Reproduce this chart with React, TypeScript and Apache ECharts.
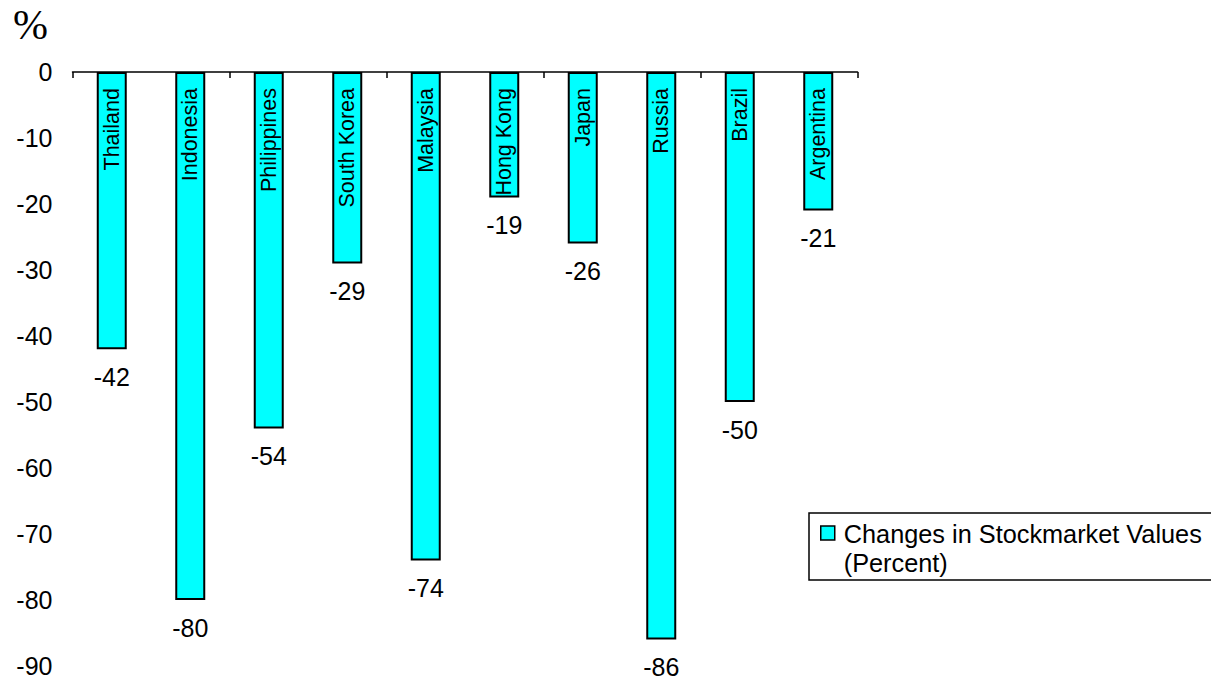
import React, { useEffect, useRef } from "react";
import * as echarts from "echarts";

// Countries and the change in their stock market values, in percent
const categories = [
  "Thailand",
  "Indonesia",
  "Philippines",
  "South Korea",
  "Malaysia",
  "Hong Kong",
  "Japan",
  "Russia",
  "Brazil",
  "Argentina",
];
const changes = [-42, -80, -54, -29, -74, -19, -26, -86, -50, -21];

const seriesName = "Changes in Stockmarket Values\n(Percent)";
const yMin = -90;
const yMax = 0;
const yStep = 10;

const SANS = "'Liberation Sans', Arial, sans-serif";
const SERIF = "'Liberation Serif', 'Times New Roman', serif";
const CYAN = "#00FFFF";

export default function App() {
  const ref = useRef<HTMLDivElement>(null);

  useEffect(() => {
    if (!ref.current) return;
    const chart = echarts.init(ref.current, null, { renderer: "svg" });

    chart.setOption({
      animation: false,
      backgroundColor: "#ffffff",
      textStyle: { fontFamily: SANS },
      grid: { left: 72.5, right: 353.5, top: 72, bottom: 15, containLabel: false },
      xAxis: {
        type: "category",
        data: categories,
        axisLine: { show: true, onZero: true, lineStyle: { color: "#000", width: 1.5 } },
        axisTick: { show: true, length: 6, lineStyle: { color: "#000", width: 1.5 } },
        axisLabel: { show: false },
        splitLine: { show: false },
      },
      yAxis: {
        type: "value",
        min: yMin,
        max: yMax,
        interval: yStep,
        axisLine: { show: false },
        axisTick: { show: false },
        splitLine: { show: false },
        axisLabel: { color: "#000", fontSize: 25, fontFamily: SANS, margin: 20 },
      },
      legend: {
        show: true,
        left: 809,
        top: 513,
        orient: "vertical",
        data: [{ name: seriesName }],
        // square at the top-left of an 18x44 box keeps the swatch beside the first line
        icon: "path://M0,0L14,0L14,14L0,14Z M18,44L18,44",
        itemWidth: 18,
        itemHeight: 44,
        padding: [6, 11, 3, 11],
        borderColor: "#000",
        borderWidth: 1.5,
        borderRadius: 0,
        backgroundColor: "#fff",
        itemStyle: { color: CYAN, borderColor: "#000", borderWidth: 1.5 },
        textStyle: { color: "#000", fontSize: 25.3, fontFamily: SANS, lineHeight: 29 },
      },
      graphic: [
        {
          type: "text",
          x: 30.5,
          y: 24.5,
          style: {
            text: "%",
            fill: "#000",
            font: `42px ${SERIF}`,
            textAlign: "center",
            textVerticalAlign: "middle",
          },
        },
      ],
      series: [
        {
          name: seriesName,
          type: "bar",
          data: changes,
          barWidth: 30,
          itemStyle: { color: CYAN, borderColor: "#000", borderWidth: 2 },
          label: {
            show: true,
            position: "insideTop",
            distance: 16,
            rotate: 90,
            align: "right",
            verticalAlign: "middle",
            formatter: (p: any) => categories[p.dataIndex],
            color: "#000",
            fontSize: 21.5,
            fontFamily: SANS,
          },
        },
        {
          name: "values",
          type: "bar",
          data: changes,
          barWidth: 30,
          barGap: "-100%",
          silent: true,
          itemStyle: { color: "transparent", borderWidth: 0 },
          label: {
            show: true,
            position: "bottom",
            distance: 15,
            formatter: (p: any) => String(p.value),
            color: "#000",
            fontSize: 25,
            fontFamily: SANS,
          },
        },
      ],
    });

    return () => chart.dispose();
  }, []);

  return (
    <div
      ref={ref}
      style={{ position: "fixed", left: 0, top: 0, width: 1211, height: 681, background: "#fff" }}
    />
  );
}
